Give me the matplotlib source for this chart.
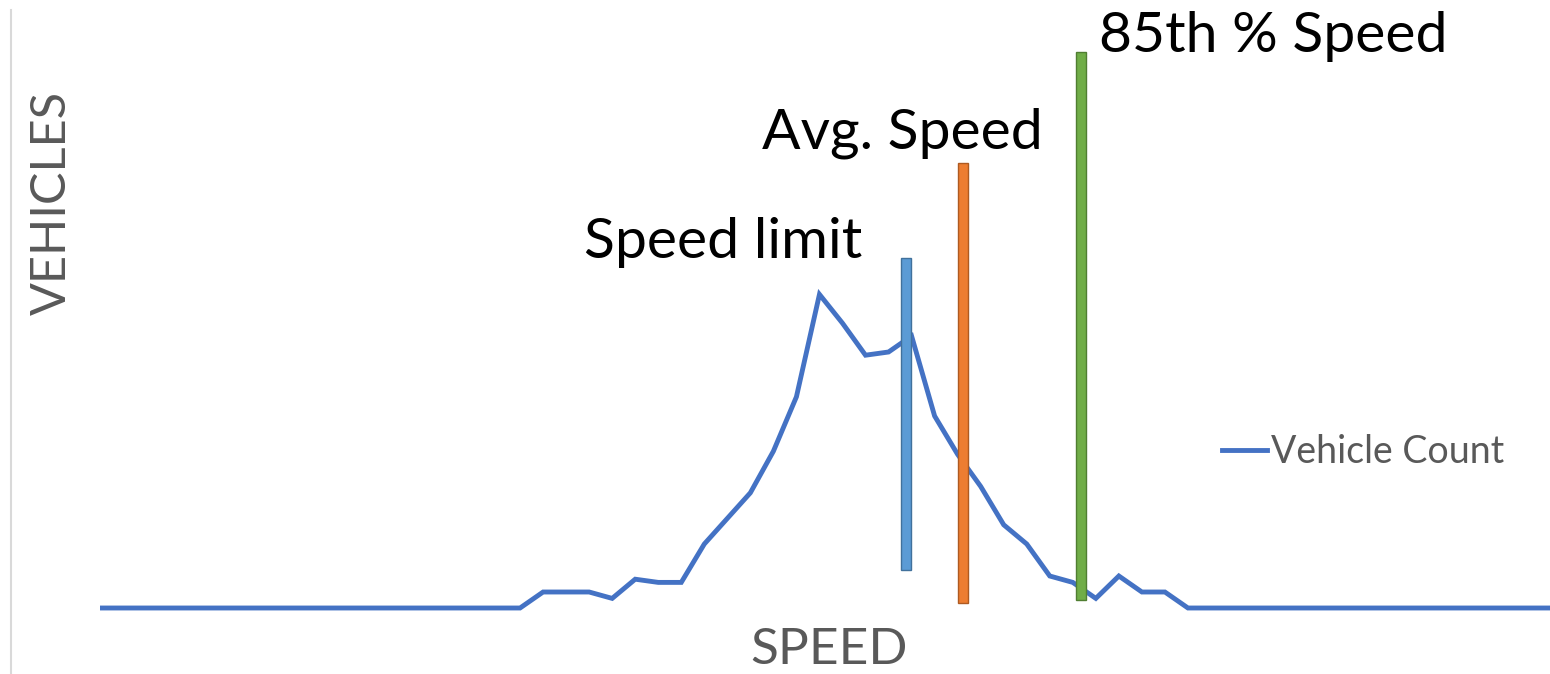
import matplotlib.pyplot as plt
from matplotlib.lines import Line2D

# speed bins (category index) and vehicle counts per bin
speed = list(range(66))
vehicle_count = [0] * 20 + [5, 5, 5, 3, 9, 8, 8, 20, 28, 36, 49, 66, 98, 89, 79, 80, 85,
                            60, 48, 38, 26, 20, 10, 8, 3, 10, 5, 5] + [0] * 18

# markers: (label, speed position, bottom, top)
marker_names = ['Speed limit', 'Avg. Speed', '85th % Speed']
marker_speed = [35.76, 38.23, 43.36]
marker_bottom = [11.9, 1.6, 2.5]
marker_top = [109.4, 139.0, 173.8]
marker_fill = ['#5B9BD5', '#ED7D31', '#70AD47']
marker_edge = ['#41719C', '#AE5A21', '#507E32']

fig = plt.figure(figsize=(15.5, 6.74), dpi=100)
ax = fig.add_axes([100 / 1550, 54 / 674, 1450 / 1550, 620 / 674])

ax.plot(speed, vehicle_count, color='#4472C4', lw=3.5, solid_joinstyle='miter',
        label='Vehicle Count', zorder=3)

for i in range(len(marker_names)):
    ax.bar(marker_speed[i], marker_top[i] - marker_bottom[i], bottom=marker_bottom[i],
           width=0.46, color=marker_fill[i], edgecolor=marker_edge[i], lw=1, zorder=4)

# labels next to the marker bars
label_off = [(-44, 0, 'right'), (80, 15, 'right'), (18, 0, 'left')]
for i in range(len(marker_names)):
    dx, dy, ha = label_off[i]
    ax.annotate(marker_names[i], xy=(marker_speed[i], marker_top[i]), xytext=(dx, dy),
                textcoords='offset pixels', ha=ha, va='baseline',
                fontsize=41, family='Lato', color='black')

ax.set_xlim(0.761, 63.72)
ax.set_ylim(-3.75, 190)
ax.axis('off')

fig.text(52 / 1550, 1 - 203 / 674, 'VEHICLES', rotation=90, ha='center', va='center',
         fontsize=35, family='Lato', color='#595959')
fig.text(829 / 1550, 1 - 650 / 674, 'SPEED', ha='center', va='center',
         fontsize=37, family='Lato', color='#595959')

fig.legend(loc='center left', bbox_to_anchor=(1222 / 1550, 1 - 452 / 674), frameon=False,
           prop={'family': 'Lato', 'size': 27}, labelcolor='#595959',
           handlelength=1.2, handletextpad=0.1, borderpad=0, borderaxespad=0)

fig.add_artist(Line2D([11 / 1550, 11 / 1550], [0, 1 - 10 / 674], color='#D9D9D9', lw=1.5))

fig.savefig('out.png', dpi=100)
